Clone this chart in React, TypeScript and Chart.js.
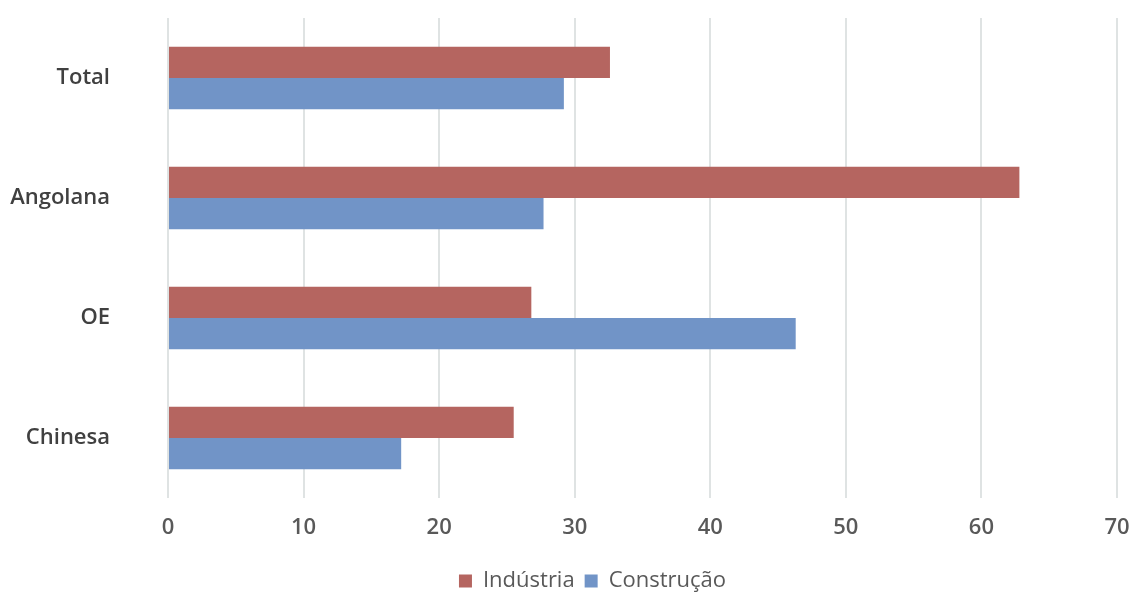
import React, { useEffect, useRef } from "react";
import { Chart, registerables } from "chart.js";

Chart.register(...registerables);

const categories = ["Total", "Angolana", "OE", "Chinesa"];
const industria = [32.6, 62.8, 26.8, 25.5];
const construcao = [29.2, 27.7, 46.3, 17.2];
const xMin = 0;
const xMax = 70;
const xStep = 10;

const FONT = "'Open Sans', 'Noto Sans', sans-serif";

const legendShift = {
  id: "legendShift",
  afterLayout(chart: any) {
    const l = chart.legend;
    if (l) {
      l.left += 34;
      l.right += 34;
    }
  },
};

export default function App() {
  const ref = useRef<HTMLCanvasElement | null>(null);

  useEffect(() => {
    if (!ref.current) return;
    const chart = new Chart(ref.current, {
      type: "bar",
      data: {
        labels: categories,
        datasets: [
          {
            label: "Indústria",
            data: industria,
            backgroundColor: "#b56560",
            categoryPercentage: 0.52,
            barPercentage: 1,
          },
          {
            label: "Construção",
            data: construcao,
            backgroundColor: "#7194c7",
            categoryPercentage: 0.52,
            barPercentage: 1,
          },
        ],
      },
      plugins: [legendShift],
      options: {
        indexAxis: "y",
        responsive: false,
        animation: false,
        layout: { padding: { top: 18, right: 19, left: 0, bottom: 0 } },
        plugins: {
          tooltip: { enabled: false },
          legend: {
            position: "bottom",
            labels: {
              boxWidth: 13,
              boxHeight: 13,
              padding: 10,
              color: "#595959",
              font: { family: FONT, size: 22 },
            },
          },
        },
        scales: {
          x: {
            min: xMin,
            max: xMax,
            ticks: {
              stepSize: xStep,
              color: "#595959",
              padding: 0,
              font: { family: FONT, size: 22, weight: 600 },
            },
            grid: {
              color: "#dfe3e3",
              lineWidth: 2,
              drawTicks: true,
              tickLength: 17,
              tickColor: "rgba(0,0,0,0)",
            },
            border: { display: false },
            afterFit: (scale: any) => {
              scale.height = 62;
            },
          },
          y: {
            ticks: {
              color: "#404040",
              padding: 4,
              font: { family: FONT, size: 22, weight: 600 },
            },
            grid: {
              display: true,
              drawOnChartArea: false,
              drawTicks: true,
              tickLength: 54,
              color: "rgba(0,0,0,0)",
            },
            border: { display: false },
            afterFit: (scale: any) => {
              scale.width = 168;
            },
          },
        },
      },
    });
    return () => chart.destroy();
  }, []);

  return (
    <div
      style={{
        position: "fixed",
        left: 0,
        top: 0,
        width: 1136,
        height: 592,
        overflow: "hidden",
        background: "#fff",
      }}
    >
      <canvas ref={ref} width={1136} height={602} style={{ display: "block" }} />
    </div>
  );
}
